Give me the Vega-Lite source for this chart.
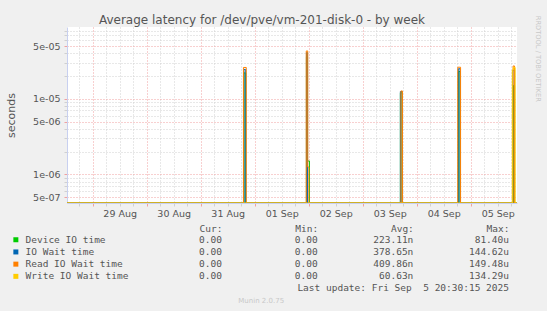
{
  "$schema": "https://vega.github.io/schema/vega-lite/v6.json",
  "width": 450,
  "height": 176,
  "autosize": {"type": "none"},
  "padding": {"left": 67, "top": 27, "right": 30, "bottom": 108},
  "background": "#f0f0f0",
  "title": {
    "text": "Average latency for /dev/pve/vm-201-disk-0 - by week",
    "font": "DejaVu Sans",
    "fontSize": 12,
    "fontWeight": "normal",
    "color": "#555555",
    "anchor": "middle",
    "frame": "group",
    "dx": -30,
    "dy": 11.5,
    "offset": 0
  },
  "config": {
    "view": {"fill": "#ffffff", "stroke": null},
    "font": "DejaVu Sans"
  },
  "datasets": {
    "latency": [
      {"series": "Device IO time", "time": "2025-08-28T12:30:00", "value": 0},
      {"series": "Device IO time", "time": "2025-08-31T19:15:00", "value": 2.2e-5},
      {"series": "Device IO time", "time": "2025-08-31T20:00:00", "value": 0},
      {"series": "Device IO time", "time": "2025-09-01T23:00:00", "value": 3.6e-5},
      {"series": "Device IO time", "time": "2025-09-01T23:30:00", "value": 1.5e-6},
      {"series": "Device IO time", "time": "2025-09-02T00:20:00", "value": 0},
      {"series": "Device IO time", "time": "2025-09-03T16:45:00", "value": 1.2e-5},
      {"series": "Device IO time", "time": "2025-09-03T17:30:00", "value": 0},
      {"series": "Device IO time", "time": "2025-09-04T18:30:00", "value": 2.3e-5},
      {"series": "Device IO time", "time": "2025-09-04T19:15:00", "value": 0},
      {"series": "Device IO time", "time": "2025-09-05T19:00:00", "value": 1.5e-5},
      {"series": "Device IO time", "time": "2025-09-05T19:30:00", "value": 0},
      {"series": "Device IO time", "time": "2025-09-05T20:40:00", "value": 0},
      {"series": "IO Wait time", "time": "2025-08-28T12:30:00", "value": 0},
      {"series": "IO Wait time", "time": "2025-08-31T19:15:00", "value": 2.45e-5},
      {"series": "IO Wait time", "time": "2025-08-31T20:00:00", "value": 0},
      {"series": "IO Wait time", "time": "2025-09-01T23:00:00", "value": 4.1e-5},
      {"series": "IO Wait time", "time": "2025-09-01T23:30:00", "value": 0},
      {"series": "IO Wait time", "time": "2025-09-03T16:45:00", "value": 1.25e-5},
      {"series": "IO Wait time", "time": "2025-09-03T17:30:00", "value": 0},
      {"series": "IO Wait time", "time": "2025-09-04T18:30:00", "value": 2.5e-5},
      {"series": "IO Wait time", "time": "2025-09-04T19:15:00", "value": 0},
      {"series": "IO Wait time", "time": "2025-09-05T18:45:00", "value": 2.4e-5},
      {"series": "IO Wait time", "time": "2025-09-05T19:30:00", "value": 0},
      {"series": "IO Wait time", "time": "2025-09-05T20:40:00", "value": 0},
      {"series": "Read IO Wait time", "time": "2025-08-28T12:30:00", "value": 0},
      {"series": "Read IO Wait time", "time": "2025-08-31T19:00:00", "value": 2.6e-5},
      {"series": "Read IO Wait time", "time": "2025-08-31T20:15:00", "value": 0},
      {"series": "Read IO Wait time", "time": "2025-09-01T22:55:00", "value": 4.3e-5},
      {"series": "Read IO Wait time", "time": "2025-09-01T23:35:00", "value": 1.25e-6},
      {"series": "Read IO Wait time", "time": "2025-09-02T00:05:00", "value": 0},
      {"series": "Read IO Wait time", "time": "2025-09-03T17:00:00", "value": 1.27e-5},
      {"series": "Read IO Wait time", "time": "2025-09-03T17:40:00", "value": 0},
      {"series": "Read IO Wait time", "time": "2025-09-04T18:15:00", "value": 2.62e-5},
      {"series": "Read IO Wait time", "time": "2025-09-04T19:30:00", "value": 0},
      {"series": "Read IO Wait time", "time": "2025-09-05T18:50:00", "value": 2.72e-5},
      {"series": "Read IO Wait time", "time": "2025-09-05T19:30:00", "value": 0},
      {"series": "Read IO Wait time", "time": "2025-09-05T20:40:00", "value": 0},
      {"series": "Write IO Wait time", "time": "2025-08-28T12:30:00", "value": 0},
      {"series": "Write IO Wait time", "time": "2025-09-05T18:30:00", "value": 2.4e-5},
      {"series": "Write IO Wait time", "time": "2025-09-05T19:00:00", "value": 2.6e-5},
      {"series": "Write IO Wait time", "time": "2025-09-05T19:45:00", "value": 0},
      {"series": "Write IO Wait time", "time": "2025-09-05T20:40:00", "value": 0}
    ],
    "stats": [
      {"series": "Device IO time", "Cur": "0.00", "Min": "0.00", "Avg": "223.11n", "Max": "81.40u"},
      {"series": "IO Wait time", "Cur": "0.00", "Min": "0.00", "Avg": "378.65n", "Max": "144.62u"},
      {"series": "Read IO Wait time", "Cur": "0.00", "Min": "0.00", "Avg": "409.86n", "Max": "149.48u"},
      {"series": "Write IO Wait time", "Cur": "0.00", "Min": "0.00", "Avg": "60.63n", "Max": "134.29u"}
    ]
  },
  "resolve": {
    "scale": {"x": "independent", "y": "independent"},
    "axis": {"x": "independent", "y": "independent"}
  },
  "layer": [
    {
      "data": {"name": "latency"},
      "mark": {"type": "line", "interpolate": "step-after", "strokeWidth": 1, "clip": true},
      "encoding": {
        "x": {
          "field": "time",
          "type": "temporal",
          "scale": {
            "domain": [
              {"year": 2025, "month": 8, "date": 28, "hours": 12, "minutes": 35},
              {"year": 2025, "month": 9, "date": 5, "hours": 20, "minutes": 35}
            ],
            "nice": false
          },
          "axis": {
            "orient": "bottom",
            "values": [
              {"year": 2025, "month": 8, "date": 28, "hours": 18},
              {"year": 2025, "month": 8, "date": 29, "hours": 0},
              {"year": 2025, "month": 8, "date": 29, "hours": 6},
              {"year": 2025, "month": 8, "date": 29, "hours": 12},
              {"year": 2025, "month": 8, "date": 29, "hours": 18},
              {"year": 2025, "month": 8, "date": 30, "hours": 0},
              {"year": 2025, "month": 8, "date": 30, "hours": 6},
              {"year": 2025, "month": 8, "date": 30, "hours": 12},
              {"year": 2025, "month": 8, "date": 30, "hours": 18},
              {"year": 2025, "month": 8, "date": 31, "hours": 0},
              {"year": 2025, "month": 8, "date": 31, "hours": 6},
              {"year": 2025, "month": 8, "date": 31, "hours": 12},
              {"year": 2025, "month": 8, "date": 31, "hours": 18},
              {"year": 2025, "month": 9, "date": 1, "hours": 0},
              {"year": 2025, "month": 9, "date": 1, "hours": 6},
              {"year": 2025, "month": 9, "date": 1, "hours": 12},
              {"year": 2025, "month": 9, "date": 1, "hours": 18},
              {"year": 2025, "month": 9, "date": 2, "hours": 0},
              {"year": 2025, "month": 9, "date": 2, "hours": 6},
              {"year": 2025, "month": 9, "date": 2, "hours": 12},
              {"year": 2025, "month": 9, "date": 2, "hours": 18},
              {"year": 2025, "month": 9, "date": 3, "hours": 0},
              {"year": 2025, "month": 9, "date": 3, "hours": 6},
              {"year": 2025, "month": 9, "date": 3, "hours": 12},
              {"year": 2025, "month": 9, "date": 3, "hours": 18},
              {"year": 2025, "month": 9, "date": 4, "hours": 0},
              {"year": 2025, "month": 9, "date": 4, "hours": 6},
              {"year": 2025, "month": 9, "date": 4, "hours": 12},
              {"year": 2025, "month": 9, "date": 4, "hours": 18},
              {"year": 2025, "month": 9, "date": 5, "hours": 0},
              {"year": 2025, "month": 9, "date": 5, "hours": 6},
              {"year": 2025, "month": 9, "date": 5, "hours": 12},
              {"year": 2025, "month": 9, "date": 5, "hours": 18}
            ],
            "labelExpr": "timeFormat(datum.value, '%H') == '12' ? timeFormat(datum.value, '%d %b') : ''",
            "labelFont": "DejaVu Sans",
            "labelFontSize": 9.5,
            "labelColor": "#555555",
            "labelPadding": 2,
            "labelOverlap": false,
            "labelFlush": false,
            "grid": true,
            "gridColor": {"condition": {"test": "timeFormat(datum.value, '%H') == '00'", "value": "#f0a0a0"}, "value": "#d0d0d0"},
            "gridDash": [1, 2],
            "ticks": true,
            "tickSize": 3,
            "tickColor": {"condition": {"test": "timeFormat(datum.value, '%H') == '00'", "value": "#f0a0a0"}, "value": "#d0d0d0"},
            "domain": true,
            "domainColor": "#c8d0f0",
            "title": "Munin 2.0.75",
            "titleFont": "DejaVu Sans",
            "titleFontSize": 7,
            "titleFontWeight": "normal",
            "titleColor": "#c8c8c8",
            "titleX": 193.7,
            "titleY": 97.7,
            "titleAlign": "center",
            "titleBaseline": "middle"
          }
        },
        "y": {
          "field": "value",
          "type": "quantitative",
          "scale": {"type": "log", "domain": [4.17e-7, 8.93e-5], "clamp": true, "nice": false},
          "axis": {
            "orient": "left",
            "values": [5e-7, 6e-7, 7e-7, 8e-7, 9e-7, 1e-6, 2e-6, 3e-6, 4e-6, 5e-6, 6e-6, 7e-6, 8e-6, 9e-6, 1e-5, 2e-5, 3e-5, 4e-5, 5e-5, 6e-5, 7e-5, 8e-5],
            "labelExpr": "(datum.value == 5e-7 || datum.value == 1e-6 || datum.value == 5e-6 || datum.value == 1e-5 || datum.value == 5e-5) ? replace(format(datum.value, '.0e'), 'e-', 'e-0') : ''",
            "labelFont": "DejaVu Sans",
            "labelFontSize": 9.5,
            "labelColor": "#555555",
            "labelPadding": 4,
            "labelOverlap": false,
            "labelBaseline": "middle",
            "grid": true,
            "gridColor": {"condition": {"test": "datum.value == 5e-7 || datum.value == 1e-6 || datum.value == 5e-6 || datum.value == 1e-5 || datum.value == 5e-5", "value": "#f0a0a0"}, "value": "#d0d0d0"},
            "gridDash": [1, 2],
            "ticks": true,
            "tickSize": 3,
            "tickColor": {"condition": {"test": "datum.value == 5e-7 || datum.value == 1e-6 || datum.value == 5e-6 || datum.value == 1e-5 || datum.value == 5e-5", "value": "#f0a0a0"}, "value": "#d0d0d0"},
            "domain": true,
            "domainColor": "#c8d0f0",
            "title": "seconds",
            "titleFont": "DejaVu Sans",
            "titleFontSize": 11,
            "titleFontWeight": "normal",
            "titleColor": "#555555",
            "titleX": -56,
            "titleY": 88,
            "titleAngle": -90,
            "titleAlign": "center",
            "titleBaseline": "middle"
          }
        },
        "color": {
          "field": "series",
          "type": "nominal",
          "scale": {
            "domain": ["Device IO time", "IO Wait time", "Read IO Wait time", "Write IO Wait time"],
            "range": ["#00cc00", "#0066b3", "#ff8000", "#ffcc00"]
          },
          "legend": {
            "orient": "none",
            "legendX": -55.9,
            "legendY": 208,
            "title": null,
            "padding": 0,
            "symbolType": "square",
            "symbolSize": 25,
            "symbolStrokeWidth": 0,
            "labelFont": "DejaVu Sans Mono",
            "labelFontSize": 9.5,
            "labelColor": "#555555",
            "labelOffset": 4.9,
            "rowPadding": 1.2,
            "encode": {
              "symbols": {"update": {"fill": {"scale": "color", "field": "value"}, "fillOpacity": {"value": 1}, "strokeWidth": {"value": 0}}}
            }
          }
        }
      }
    },
    {
      "layer": [
        {
          "data": {"name": "stats"},
          "transform": [{"fold": ["Cur", "Min", "Avg", "Max"], "as": ["column", "text"]}],
          "mark": {"type": "text", "align": "right", "baseline": "middle", "font": "DejaVu Sans Mono", "fontSize": 9.5, "color": "#555555"},
          "encoding": {
            "x": {
              "field": "column",
              "type": "nominal",
              "scale": {"type": "point", "domain": ["Cur", "Min", "Avg", "Max"], "range": [155, 442], "padding": 0},
              "axis": {
                "orient": "bottom",
                "labelExpr": "datum.label + ':'",
                "labelAngle": 0,
                "labelAlign": "right",
                "labelBaseline": "middle",
                "labelDx": -7,
                "labelPadding": 25.3,
                "labelFont": "DejaVu Sans Mono",
                "labelFontSize": 9.5,
                "labelColor": "#555555",
                "ticks": false,
                "domain": false,
                "grid": false,
                "title": null
              }
            },
            "y": {
              "field": "series",
              "type": "nominal",
              "scale": {"type": "point", "domain": ["Device IO time", "IO Wait time", "Read IO Wait time", "Write IO Wait time", "update"], "range": [212.7, 260.7], "padding": 0},
              "axis": {
                "orient": "right",
                "labels": false,
                "ticks": false,
                "domain": false,
                "grid": false,
                "title": "RRDTOOL / TOBI OETIKER",
                "titleFont": "DejaVu Sans",
                "titleFontSize": 6.7,
                "titleFontWeight": "normal",
                "titleColor": "#c8c8c8",
                "titleAngle": 90,
                "titleX": 20.2,
                "titleY": 31.3,
                "titleAlign": "center",
                "titleBaseline": "middle"
              }
            },
            "text": {"field": "text", "type": "nominal"}
          }
        },
        {
          "data": {"values": [{"label": "Last update: Fri Sep \u00a05 20:30:15 2025"}]},
          "mark": {"type": "text", "align": "right", "baseline": "middle", "font": "DejaVu Sans Mono", "fontSize": 9.5, "color": "#555555"},
          "encoding": {
            "x": {"datum": "Max", "type": "nominal"},
            "y": {"datum": "update", "type": "nominal"},
            "text": {"field": "label", "type": "nominal"}
          }
        }
      ]
    }
  ]
}
